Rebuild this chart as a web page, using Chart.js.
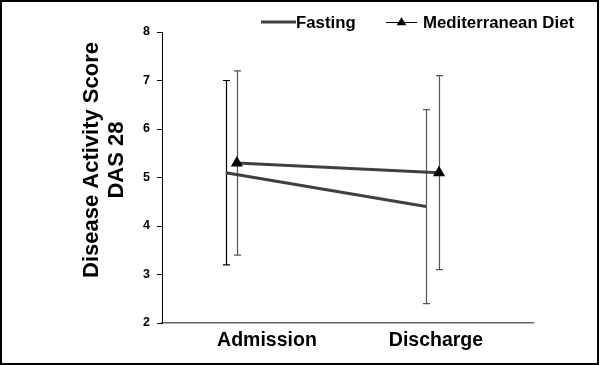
<!DOCTYPE html>
<html><head><meta charset="utf-8">
<script src="https://cdn.jsdelivr.net/npm/chart.js@4.4.0/dist/chart.umd.min.js"></script>
<style>html,body{margin:0;padding:0;background:#fff}#wrap{width:600px;height:365px;position:relative}</style>
</head><body><div id="wrap"><canvas id="c" width="600" height="365"></canvas></div>
<script>
// ---- data ----
const categories = ['Admission', 'Discharge'];
const categoryPos = [1, 2];
const seriesNames = ['Fasting', 'Mediterranean Diet'];
const fastingX = [0.757, 1.941];
const fastingMean = [5.1, 4.4];
const fastingHigh = [7.0, 6.4];
const fastingLow = [3.2, 2.4];
const medX = [0.822, 2.018];
const medMean = [5.3, 5.1];
const medHigh = [7.2, 7.1];
const medLow = [3.4, 3.1];
const yTicks = [2, 3, 4, 5, 6, 7, 8];
const yTitle = ['Disease Activity Score', 'DAS 28'];

const FONT = '"Liberation Sans", Arial, Helvetica, sans-serif';
const LINE = '#404040';

const toPts = (xs, ys) => xs.map((x, i) => ({ x: x, y: ys[i] }));

const bgFrame = {
  id: 'bgFrame',
  beforeDraw(chart) {
    const ctx = chart.ctx;
    ctx.save();
    ctx.fillStyle = '#fff';
    ctx.fillRect(0, 0, chart.width, chart.height);
    ctx.restore();
  },
  afterDraw(chart) {
    const ctx = chart.ctx;
    ctx.save();
    ctx.strokeStyle = '#000';
    ctx.lineWidth = 2;
    ctx.strokeRect(1, 1, chart.width - 3, chart.height - 2);
    ctx.restore();
  }
};

const errorBars = {
  id: 'errorBars',
  beforeDatasetsDraw(chart) {
    const ctx = chart.ctx;
    const xs = chart.scales.x, ys = chart.scales.y;
    ctx.save();
    chart.data.datasets.forEach((ds) => {
      ds.data.forEach((p, i) => {
        const px = Math.round(xs.getPixelForValue(p.x)) + 0.5;
        const yHi = ys.getPixelForValue(ds.errHigh[i]);
        const yLo = ys.getPixelForValue(ds.errLow[i]);
        ctx.strokeStyle = ds.errColor[i];
        ctx.lineWidth = 1.2;
        ctx.beginPath();
        ctx.moveTo(px, yHi); ctx.lineTo(px, yLo);
        ctx.moveTo(px - 3.5, yHi); ctx.lineTo(px + 3.5, yHi);
        ctx.moveTo(px - 3.5, yLo); ctx.lineTo(px + 3.5, yLo);
        ctx.stroke();
      });
    });
    ctx.restore();
  }
};

const labelsPlugin = {
  id: 'labelsPlugin',
  afterDraw(chart) {
    const ctx = chart.ctx;
    const ca = chart.chartArea;
    ctx.save();
    // y title
    ctx.fillStyle = '#000';
    ctx.font = 'bold 22px ' + FONT;
    ctx.textAlign = 'center';
    ctx.textBaseline = 'middle';
    const cy = 160;
    [92, 117].forEach((x, i) => {
      ctx.save();
      ctx.translate(x, cy);
      ctx.rotate(-Math.PI / 2);
      ctx.fillText(yTitle[i], 0, 0);
      ctx.restore();
    });
    // legend
    const ly = 22;
    ctx.font = 'bold 16.8px ' + FONT;
    ctx.textAlign = 'left';
    ctx.textBaseline = 'middle';
    ctx.strokeStyle = LINE;
    ctx.lineWidth = 3;
    ctx.beginPath(); ctx.moveTo(261, ly); ctx.lineTo(296, ly); ctx.stroke();
    ctx.fillText(seriesNames[0], 296, ly + 1);
    ctx.strokeStyle = '#000';
    ctx.lineWidth = 1;
    ctx.beginPath(); ctx.moveTo(386, ly + 0.5); ctx.lineTo(417, ly + 0.5); ctx.stroke();
    const r = 5.5, tx = 401.5, ty = ly + 0.5;
    ctx.fillStyle = '#000';
    ctx.beginPath();
    ctx.moveTo(tx, ty - r);
    ctx.lineTo(tx + r * 0.866, ty + r / 2);
    ctx.lineTo(tx - r * 0.866, ty + r / 2);
    ctx.closePath(); ctx.fill();
    ctx.fillText(seriesNames[1], 423, ly + 1);
    ctx.restore();
  }
};

new Chart(document.getElementById('c'), {
  type: 'line',
  data: {
    datasets: [
      {
        label: seriesNames[0],
        data: toPts(fastingX, fastingMean),
        errHigh: fastingHigh, errLow: fastingLow,
        errColor: ['#000', '#555'],
        borderColor: LINE, borderWidth: 3, pointRadius: 0, tension: 0
      },
      {
        label: seriesNames[1],
        data: toPts(medX, medMean),
        errHigh: medHigh, errLow: medLow,
        errColor: ['#555', '#555'],
        borderColor: LINE, borderWidth: 3, tension: 0,
        pointStyle: 'triangle', pointRadius: 7,
        pointBackgroundColor: '#000', pointBorderColor: '#000', pointBorderWidth: 0
      }
    ]
  },
  options: {
    responsive: false,
    devicePixelRatio: 1,
    animation: false,
    events: [],
    layout: { padding: { left: 0, top: 32, right: 67, bottom: 0 } },
    plugins: { legend: { display: false }, tooltip: { enabled: false }, title: { display: false } },
    scales: {
      x: {
        type: 'linear',
        min: 0.379, max: 2.574,
        afterBuildTicks: (s) => { s.ticks = categoryPos.map(v => ({ value: v })); },
        afterFit: (s) => { s.height = 42; },
        grid: { display: false, drawTicks: false },
        border: { display: true, color: '#666', width: 1.5 },
        ticks: {
          autoSkip: false, maxRotation: 0, padding: 6,
          color: '#000', font: { family: FONT, size: 19.5, weight: 'bold' },
          callback: (v) => categories[categoryPos.indexOf(v)]
        }
      },
      y: {
        min: 2, max: 8,
        afterBuildTicks: (s) => { s.ticks = yTicks.map(v => ({ value: v })); },
        afterFit: (s) => { s.width = 162; },
        grid: { drawOnChartArea: false, drawTicks: true, tickLength: 5, color: '#000', lineWidth: 1 },
        border: { display: true, color: '#000', width: 1 },
        ticks: { padding: 7, color: '#000', font: { family: FONT, size: 12.5, weight: 'bold' } }
      }
    }
  },
  plugins: [bgFrame, errorBars, labelsPlugin]
});
</script>
</body></html>
